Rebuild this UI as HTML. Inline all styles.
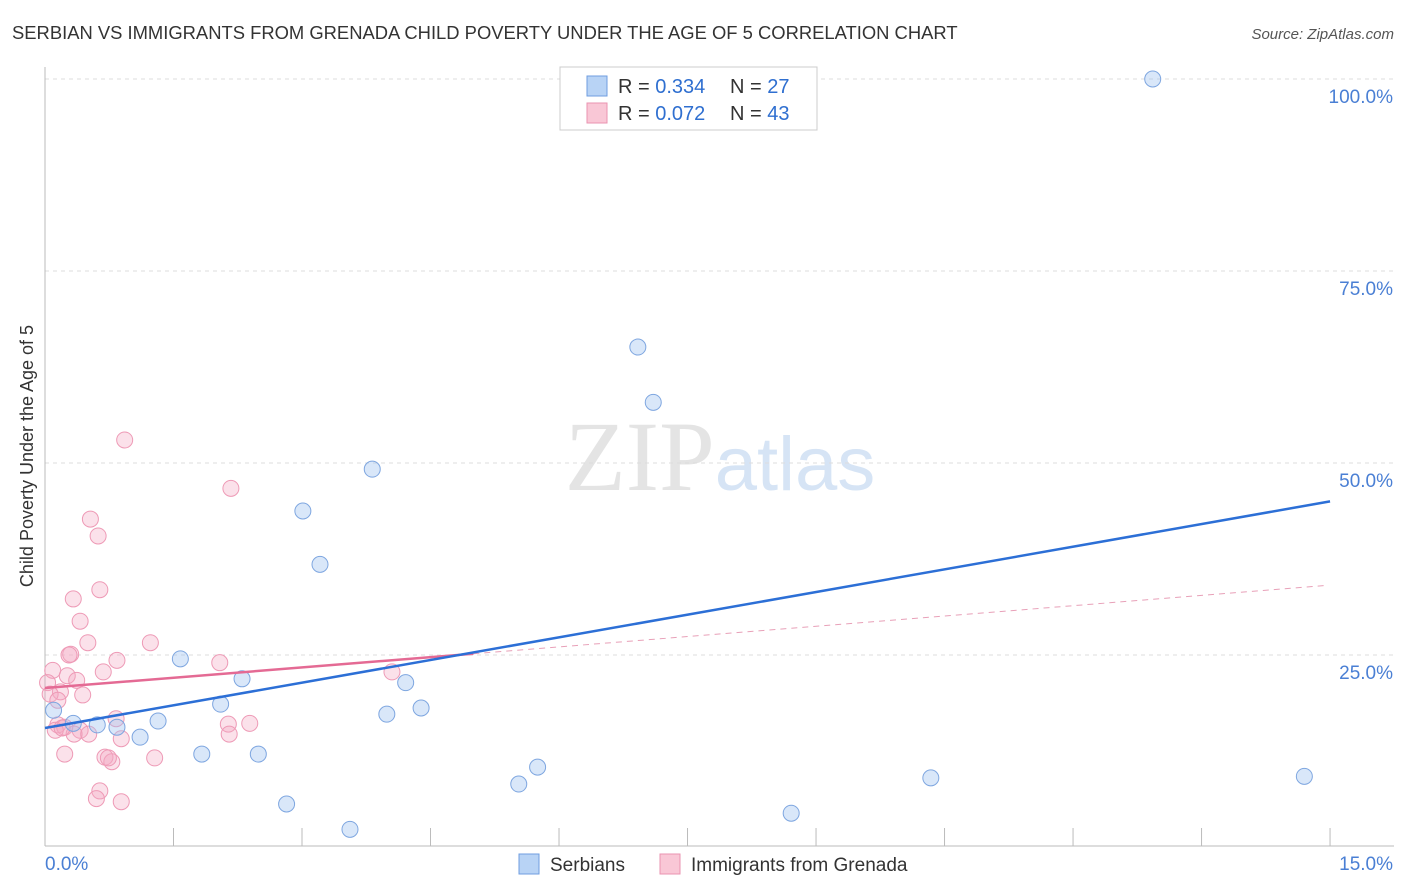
<!DOCTYPE html>
<html><head><meta charset="utf-8"><style>
body{margin:0;background:#fff;font-family:"Liberation Sans",sans-serif;}
svg{display:block}
</style></head><body>
<svg id="chart" width="1406" height="892" xmlns="http://www.w3.org/2000/svg">
<text x="12" y="39" font-size="18.4" fill="#333">SERBIAN VS IMMIGRANTS FROM GRENADA CHILD POVERTY UNDER THE AGE OF 5 CORRELATION CHART</text>
<text x="1394" y="39" font-size="15" fill="#555" text-anchor="end" font-style="italic">Source: ZipAtlas.com</text>
<text x="720" y="490" font-size="100" text-anchor="middle" font-family="Liberation Serif" fill="#e4e4e4">ZIP<tspan fill="#d6e4f5" font-family="Liberation Sans" font-size="76">atlas</tspan></text>
<g id="grid"></g><g id="axes"></g><g id="marks"></g>
<text transform="translate(33,456) rotate(-90)" font-size="18" fill="#333" text-anchor="middle">Child Poverty Under the Age of 5</text>
<g>
<rect x="560" y="67" width="257" height="63" fill="#fff" stroke="#ccc"/>
<rect x="587" y="76" width="20" height="20" fill="#b8d3f5" stroke="#6f9ee0"/>
<rect x="587" y="103" width="20" height="20" fill="#f9c7d6" stroke="#ea93b0"/>
<text x="618" y="93" font-size="20" fill="#333">R = <tspan fill="#2f6fd0">0.334</tspan></text>
<text x="730" y="93" font-size="20" fill="#333">N = <tspan fill="#2f6fd0">27</tspan></text>
<text x="618" y="120" font-size="20" fill="#333">R = <tspan fill="#2f6fd0">0.072</tspan></text>
<text x="730" y="120" font-size="20" fill="#333">N = <tspan fill="#2f6fd0">43</tspan></text>
</g>
<g>
<rect x="519" y="854" width="20" height="20" fill="#b8d3f5" stroke="#6f9ee0"/>
<text x="550" y="871" font-size="19" fill="#333">Serbians</text>
<rect x="660" y="854" width="20" height="20" fill="#f9c7d6" stroke="#ea93b0"/>
<text x="691" y="871" font-size="19" fill="#333">Immigrants from Grenada</text>
</g>
</svg>
<script>
const yTicks=[25,50,75,100];
const yTickLabels=["25.0%","50.0%","75.0%","100.0%"];
const xTickVals=[0,1.5,3,4.5,6,7.5,9,10.5,12,13.5,15];
const serbX=[12.93,6.92,7.1,3.82,3.01,3.21,1.58,2.3,4.21,2.05,4.39,3.99,1.32,0.61,0.33,0.84,1.11,1.83,2.49,5.75,5.53,10.34,14.7,2.82,8.71,3.56,0.1];
const serbY=[100,65.1,57.9,49.2,43.75,36.8,24.5,21.9,21.4,18.6,18.1,17.3,16.4,15.9,16.1,15.6,14.3,12.1,12.1,10.4,8.2,9.0,9.2,5.6,4.4,2.3,17.8];
const grenX=[0.93,2.17,0.53,0.62,0.64,0.33,0.41,0.5,1.23,0.3,0.84,2.04,0.09,0.68,4.05,0.26,0.37,0.03,0.18,0.06,0.44,0.15,0.83,2.14,2.39,0.15,0.23,0.12,0.41,0.34,0.51,2.15,0.89,0.23,0.7,0.78,1.28,0.64,0.6,0.89,0.74,0.28,0.2];
const grenY=[53,46.7,42.7,40.5,33.5,32.3,29.4,26.6,26.6,25.1,24.3,24.0,23.0,22.8,22.8,22.3,21.7,21.4,20.2,19.9,19.8,19.1,16.7,16.0,16.1,15.9,15.6,15.2,15.2,14.7,14.7,14.7,14.1,12.1,11.7,11.1,11.6,7.3,6.3,5.9,11.6,25.0,15.5];
const serbLine=[15.5,45];
const grenLine=[20.7,34.1];
const grenSolidEnd=5;
const X=v=>45+v*85.67, Y=v=>847-7.68*v;
const NS="http://www.w3.org/2000/svg";
function mk(t,a,p){const e=document.createElementNS(NS,t);for(const k in a)e.setAttribute(k,a[k]);p.appendChild(e);return e;}
const grid=document.getElementById('grid'),axes=document.getElementById('axes'),marks=document.getElementById('marks');
yTicks.forEach((t,i)=>{
 const l=mk('line',{x1:45,x2:1394,y1:Y(t),y2:Y(t),stroke:'#ddd','stroke-dasharray':'4,4'},grid);
 
 
 const tx=mk('text',{x:1393,y:Y(t)+24,'font-size':19,fill:'#4a7fd4','text-anchor':'end'},axes);
 tx.textContent=yTickLabels[i];
 
 
});
const xa=mk('line',{x1:45,x2:1394,y1:846,y2:846,stroke:'#bbb'},axes);


const ya=mk('line',{x1:45,x2:45,y1:67,y2:846,stroke:'#bbb'},axes);


xTickVals.forEach(v=>{const t=mk('line',{x1:X(v),x2:X(v),y1:828,y2:846,stroke:'#bbb'},axes);
 
 });
const xl0=mk('text',{x:45,y:870,'font-size':19,fill:'#4a7fd4'},axes);xl0.textContent='0.0%';


const xl1=mk('text',{x:1393,y:870,'font-size':19,fill:'#4a7fd4','text-anchor':'end'},axes);xl1.textContent='15.0%';


grenX.forEach((x,i)=>{const c=mk('circle',{cx:X(x),cy:Y(grenY[i]),r:8,fill:'rgba(244,170,195,0.35)',stroke:'#ee9ab6','stroke-width':1},marks);
 
 });
serbX.forEach((x,i)=>{const c=mk('circle',{cx:X(x),cy:Y(serbY[i]),r:8,fill:'rgba(160,195,240,0.4)',stroke:'#7ea6e0','stroke-width':1},marks);
 
 });
const g=v=>grenLine[0]+(grenLine[1]-grenLine[0])*v/15;
const pd=mk('line',{x1:X(grenSolidEnd),y1:Y(g(grenSolidEnd)),x2:X(14.95),y2:Y(g(14.95)),stroke:'#e8a0b8','stroke-dasharray':'6,5','stroke-width':1},marks);


const ps=mk('line',{x1:X(0),y1:Y(g(0)),x2:X(grenSolidEnd),y2:Y(g(grenSolidEnd)),stroke:'#e46a94','stroke-width':2.5},marks);


const bl=mk('line',{x1:X(0),y1:Y(serbLine[0]),x2:X(15),y2:Y(serbLine[1]),stroke:'#2c6fd6','stroke-width':2.5},marks);


</script>
</body></html>
